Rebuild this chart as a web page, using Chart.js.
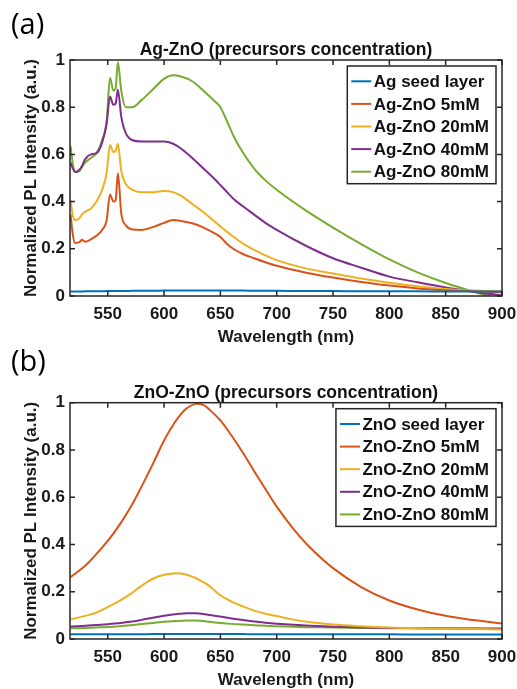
<!DOCTYPE html>
<html>
<head>
<meta charset="utf-8">
<script src="https://cdn.jsdelivr.net/npm/chart.js@4.4.1/dist/chart.umd.min.js"></script>
<style>
  html, body { margin: 0; padding: 0; background: #fff; }
  #page { position: relative; width: 517px; height: 689px; overflow: hidden; }
  canvas { position: absolute; left: 0; }
  #chartA { top: 0; }
  #chartB { top: 340px; }
  .panel-tag { position: absolute; left: 11px; font: 29px "Open Sans", sans-serif; line-height: 1; color: #000; }
</style>
</head>
<body>
<div id="page">
  <canvas id="chartA" width="517" height="346"></canvas>
  <canvas id="chartB" width="517" height="349"></canvas>
  <div class="panel-tag" style="top:8px">(a)</div>
  <div class="panel-tag" style="top:345px">(b)</div>
</div>
<script>
// --- data ---
const xTicks = [550, 600, 650, 700, 750, 800, 850, 900];
const yTicks = [0, 0.2, 0.4, 0.6, 0.8, 1];
const seriesColors = ['#0072BD', '#D95319', '#EDB120', '#7E2F8E', '#77AC30'];

// (a) Ag-ZnO
const labelsA = ['Ag seed layer', 'Ag-ZnO 5mM', 'Ag-ZnO 20mM', 'Ag-ZnO 40mM', 'Ag-ZnO 80mM'];
const waveA = [517, 519, 521, 525, 527, 530, 535, 540, 545, 549, 552, 555, 557, 559, 562, 566, 572, 580, 590, 600,
  608, 615, 625, 635, 645, 650, 655, 662, 670, 680, 690, 700, 725, 750, 775, 800, 825, 850, 875, 890, 900];
const agSeed = [0.019, 0.019, 0.019, 0.019, 0.019, 0.02, 0.02, 0.02, 0.02, 0.021, 0.021, 0.021, 0.021, 0.021, 0.021, 0.021, 0.022, 0.022, 0.022, 0.023,
  0.023, 0.023, 0.023, 0.023, 0.023, 0.023, 0.023, 0.023, 0.023, 0.022, 0.022, 0.022, 0.021, 0.021, 0.02, 0.02, 0.02, 0.019, 0.019, 0.019, 0.019];
const ag5 = [0.345, 0.26, 0.225, 0.228, 0.238, 0.23, 0.24, 0.255, 0.28, 0.32, 0.43, 0.40, 0.405, 0.52, 0.35, 0.30, 0.282, 0.28, 0.292, 0.31,
  0.322, 0.318, 0.308, 0.29, 0.265, 0.25, 0.225, 0.198, 0.178, 0.16, 0.143, 0.128, 0.1, 0.078, 0.059, 0.044, 0.032, 0.024, 0.019, 0.017, 0.016];
const ag20 = [0.405, 0.34, 0.322, 0.33, 0.345, 0.357, 0.37, 0.40, 0.45, 0.52, 0.64, 0.61, 0.615, 0.645, 0.53, 0.475, 0.45, 0.44, 0.44, 0.445,
  0.44, 0.425, 0.39, 0.355, 0.315, 0.295, 0.275, 0.25, 0.222, 0.195, 0.172, 0.152, 0.118, 0.095, 0.074, 0.056, 0.041, 0.03, 0.023, 0.021, 0.02];
const ag40 = [0.565, 0.54, 0.525, 0.535, 0.55, 0.58, 0.60, 0.605, 0.65, 0.73, 0.845, 0.81, 0.815, 0.875, 0.76, 0.69, 0.66, 0.655, 0.655, 0.655,
  0.645, 0.625, 0.585, 0.54, 0.495, 0.47, 0.445, 0.41, 0.38, 0.345, 0.31, 0.28, 0.215, 0.16, 0.12, 0.082, 0.058, 0.036, 0.018, 0.008, 0.003];
const ag80 = [0.635, 0.56, 0.525, 0.53, 0.545, 0.565, 0.585, 0.605, 0.66, 0.74, 0.925, 0.87, 0.88, 0.99, 0.87, 0.80, 0.80, 0.83, 0.875, 0.92,
  0.935, 0.93, 0.91, 0.87, 0.825, 0.80, 0.75, 0.675, 0.608, 0.54, 0.49, 0.45, 0.365, 0.29, 0.22, 0.155, 0.10, 0.055, 0.018, -0.002, -0.015];

// (b) ZnO-ZnO
const labelsB = ['ZnO seed layer', 'ZnO-ZnO 5mM', 'ZnO-ZnO 20mM', 'ZnO-ZnO 40mM', 'ZnO-ZnO 80mM'];
const waveB = [517, 530, 540, 550, 560, 570, 580, 590, 600, 610, 615, 620, 628, 635, 640, 650, 660, 670, 680, 690,
  700, 715, 730, 750, 775, 800, 825, 850, 875, 900];
const znoSeed = [0.02, 0.02, 0.02, 0.02, 0.02, 0.02, 0.02, 0.021, 0.021, 0.021, 0.021, 0.021, 0.021, 0.021, 0.021, 0.021, 0.021, 0.021, 0.02, 0.02,
  0.02, 0.02, 0.02, 0.02, 0.02, 0.02, 0.019, 0.019, 0.019, 0.019];
const zno5 = [0.262, 0.31, 0.36, 0.415, 0.48, 0.555, 0.645, 0.74, 0.84, 0.92, 0.952, 0.976, 0.995, 0.99, 0.972, 0.925, 0.86, 0.788, 0.71, 0.635,
  0.56, 0.465, 0.385, 0.30, 0.22, 0.163, 0.125, 0.098, 0.08, 0.066];
const zno20 = [0.083, 0.098, 0.112, 0.135, 0.16, 0.19, 0.225, 0.255, 0.272, 0.278, 0.277, 0.272, 0.258, 0.24, 0.225, 0.185, 0.158, 0.138, 0.12, 0.107,
  0.097, 0.082, 0.071, 0.061, 0.054, 0.049, 0.046, 0.044, 0.042, 0.04];
const zno40 = [0.053, 0.056, 0.059, 0.062, 0.067, 0.073, 0.081, 0.09, 0.098, 0.105, 0.107, 0.109, 0.109, 0.106, 0.102, 0.095, 0.087, 0.08, 0.074, 0.069,
  0.065, 0.06, 0.056, 0.052, 0.049, 0.047, 0.046, 0.045, 0.044, 0.043];
const zno80 = [0.045, 0.047, 0.049, 0.051, 0.054, 0.058, 0.063, 0.068, 0.073, 0.076, 0.077, 0.078, 0.078, 0.076, 0.073, 0.068, 0.064, 0.061, 0.058, 0.056,
  0.054, 0.052, 0.05, 0.049, 0.047, 0.046, 0.045, 0.045, 0.044, 0.044];

const FONT = '"Liberation Sans", Arial, sans-serif';
const AXIS_COLOR = '#262626';

// box, inward ticks and the legend drawn inside the plot (MATLAB style)
const boxPlugin = {
  id: 'boxPlugin',
  afterDatasetsDraw(chart) {
    const { ctx, chartArea: a, scales: { x, y } } = chart;
    ctx.save();
    ctx.strokeStyle = AXIS_COLOR;
    ctx.lineWidth = 1.5;
    ctx.beginPath();
    x.ticks.forEach(t => {
      const px = x.getPixelForValue(t.value);
      ctx.moveTo(px, a.bottom); ctx.lineTo(px, a.bottom - 5);
      ctx.moveTo(px, a.top); ctx.lineTo(px, a.top + 5);
    });
    y.ticks.forEach(t => {
      const py = y.getPixelForValue(t.value);
      ctx.moveTo(a.left, py); ctx.lineTo(a.left + 5, py);
      ctx.moveTo(a.right, py); ctx.lineTo(a.right - 5, py);
    });
    ctx.stroke();
    ctx.strokeRect(a.left, a.top, a.right - a.left, a.bottom - a.top);

    // legend
    const sets = chart.data.datasets;
    ctx.font = 'bold 17px ' + FONT;
    const maxW = Math.max(...sets.map(d => ctx.measureText(d.label).width));
    const right = a.right - 6;
    const left = right - (maxW + 33.5);
    const top = a.top + 6;
    const rowH = 22.6;
    const h = 15.3 + rowH * (sets.length - 1) + 12;
    ctx.fillStyle = '#fff';
    ctx.fillRect(left, top, right - left, h);
    ctx.strokeRect(left, top, right - left, h);
    ctx.textBaseline = 'middle';
    sets.forEach((d, i) => {
      const cy = top + 15.3 + i * rowH;
      ctx.strokeStyle = d.borderColor;
      ctx.lineWidth = 2;
      ctx.beginPath();
      ctx.moveTo(left + 4, cy); ctx.lineTo(left + 24, cy);
      ctx.stroke();
      ctx.fillStyle = '#111';
      ctx.fillText(d.label, left + 26.5, cy + 1);
    });
    ctx.restore();
  }
};

function makePanel(canvasId, title, waves, labels, series, padTop, smooth) {
  const datasets = series.map((vals, i) => ({
    label: labels[i],
    data: vals.map((v, j) => ({ x: waves[j], y: v })),
    borderColor: seriesColors[i],
    borderWidth: 2,
    pointRadius: 0,
    cubicInterpolationMode: smooth ? 'default' : 'monotone',
    tension: smooth ? 0.4 : 0,
    fill: false
  }));

  return new Chart(document.getElementById(canvasId), {
    type: 'line',
    data: { datasets },
    options: {
      responsive: false,
      animation: false,
      layout: { padding: { top: padTop, right: 15, bottom: 0.5, left: 0 } },
      scales: {
        x: {
          type: 'linear',
          min: 516.5,
          max: 900,
          afterBuildTicks: s => { s.ticks = xTicks.map(v => ({ value: v })); },
          afterFit: s => { s.height = 49.5; s.paddingLeft = 0; s.paddingRight = 0; },
          grid: { display: false, drawTicks: false },
          border: { display: false },
          ticks: {
            padding: 8, maxRotation: 0, autoSkip: false, color: '#1a1a1a',
            font: { family: FONT, size: 17, weight: 'bold' },
            callback: v => String(v)
          },
          title: { display: true, text: 'Wavelength (nm)', color: '#1a1a1a', padding: 0, font: { family: FONT, size: 17, weight: 'bold', lineHeight: 1 } }
        },
        y: {
          min: 0,
          max: 1,
          afterBuildTicks: s => { s.ticks = yTicks.map(v => ({ value: v })); },
          afterFit: s => { s.width = 70; },
          grid: { display: false, drawTicks: false },
          border: { display: false },
          ticks: {
            padding: 5, color: '#1a1a1a',
            font: { family: FONT, size: 17, weight: 'bold' },
            callback: v => String(+v.toFixed(1))
          },
          title: { display: true, text: 'Normalized PL Intensity (a.u.)', color: '#1a1a1a', padding: { top: 22.5, bottom: 0 }, font: { family: FONT, size: 17, weight: 'bold', lineHeight: 1 } }
        }
      },
      plugins: {
        legend: { display: false },
        tooltip: { enabled: false },
        title: {
          display: true,
          text: title,
          fullSize: false,
          color: '#111',
          padding: { top: 0, bottom: 1.25 },
          font: { family: FONT, size: 17.5, weight: 'bold', lineHeight: 1 }
        }
      }
    },
    plugins: [boxPlugin]
  });
}

makePanel('chartA', 'Ag-ZnO (precursors concentration)', waveA, labelsA, [agSeed, ag5, ag20, ag40, ag80], 41.25, false);
makePanel('chartB', 'ZnO-ZnO (precursors concentration)', waveB, labelsB, [znoSeed, zno5, zno20, zno40, zno80], 43.95, true);
</script>
</body>
</html>
